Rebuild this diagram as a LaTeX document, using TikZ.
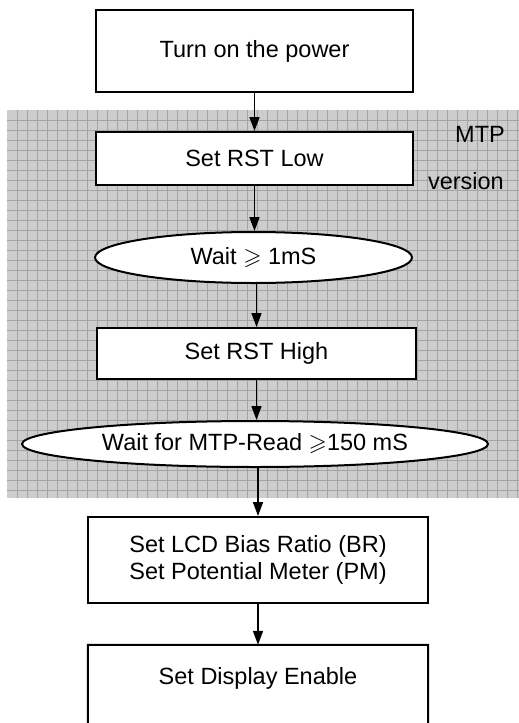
\documentclass[tikz,border=0pt]{standalone}
\usepackage{fontspec}
\usepackage{amssymb}
\setmainfont{Liberation Sans}
\usetikzlibrary{shapes.geometric,arrows.meta}
\definecolor{gridfill}{HTML}{CDCDCD}
\definecolor{gridline}{HTML}{A4A4A4}
\begin{document}
\begin{tikzpicture}[x=1pt,y=-1pt,
  every node/.style={font=\fontsize{23.5}{27}\selectfont},
  stepbox/.style={draw=black,line width=2pt,fill=white,rectangle,inner sep=0pt},
  waitoval/.style={draw=black,line width=2pt,fill=white,ellipse,inner sep=0pt},
  flow/.style={line width=1.6pt,-{Triangle[length=14pt,width=10pt]}},
  plain/.style={inner sep=0pt}]
\useasboundingbox (0,0) rectangle (519,723);
\clip (0,0) rectangle (519,723);
% shaded MTP region with grid
\fill[gridfill] (7,110) rectangle (519,498);
\begin{scope}
\clip (7,110) rectangle (519,498);
\foreach \gx in {17,27,...,517} \draw[gridline,line width=0.8pt] (\gx,110) -- (\gx,498);
\foreach \gy in {120,130,...,490} \draw[gridline,line width=0.8pt] (7,\gy) -- (519,\gy);
\end{scope}
\node[plain] (mtp) at (480,134) {MTP};
\node[plain,anchor=east] (ver) at (504,181) {version};
% nodes
\node[stepbox,minimum width=317pt,minimum height=82pt] (power) at (254.5,51) {Turn on the power};
\node[stepbox,minimum width=317pt,minimum height=53pt] (low) at (254.5,158.5) {Set RST Low};
\node[waitoval,minimum width=317pt,minimum height=51pt] (w1) at (253.5,257.5) {Wait $\geqslant$ 1mS};
\node[stepbox,minimum width=319pt,minimum height=51pt] (high) at (256.5,353.5) {Set RST High};
\node[waitoval,minimum width=466pt,minimum height=46pt] (w2) at (255,444) {Wait for MTP-Read $\geqslant$150 mS};
\node[stepbox,minimum width=340pt,minimum height=86pt,align=center] (lcd) at (258,560) {Set LCD Bias Ratio (BR)\\Set Potential Meter (PM)};
\node[plain,minimum width=340pt,minimum height=66pt] (disp) at (258,678) {Set Display Enable};
\coordinate (dispbl) at (88,760);
\coordinate (dispbr) at (428,760);
\draw[line width=2pt] (dispbl) -- (disp.north west) -- (disp.north east) -- (dispbr);
% connectors
\draw[flow] (power.south) -- (power.south |- low.north);
\draw[flow] (low.south) -- (low.south |- w1.north);
\draw[flow] (w1.south -| high.north) -- (high.north);
\draw[flow] (high.south) -- (high.south |- w2.north);
\draw[flow] (w2.south -| lcd.north) -- (lcd.north);
\draw[flow] (lcd.south) -- (disp.north);
\end{tikzpicture}
\end{document}
